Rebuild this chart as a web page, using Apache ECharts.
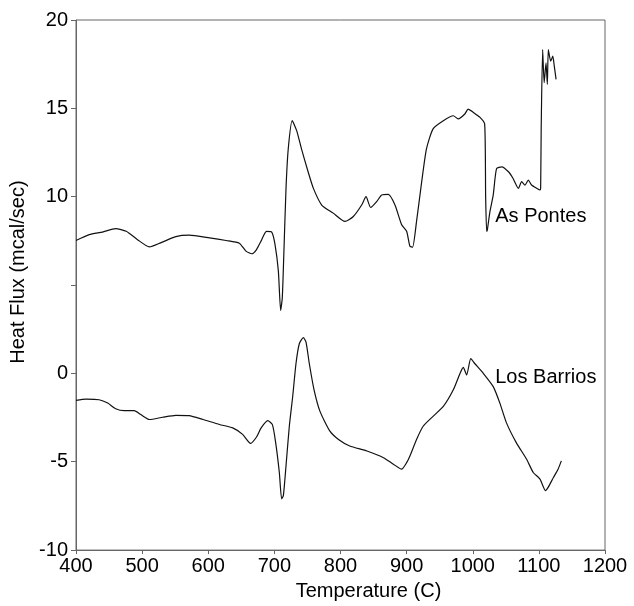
<!DOCTYPE html>
<html>
<head>
<meta charset="utf-8">
<script src="https://cdn.jsdelivr.net/npm/echarts@6/dist/echarts.min.js"></script>
<style>
html,body{margin:0;padding:0;background:#fff;}
#c{width:634px;height:606px;}
</style>
</head>
<body>
<div id="c"></div>
<script>
// Temperature (C) and heat flux (mcal/sec) for each sample
var asPontesT = [400,420,440,460,476,493,511,528,551,571,602,627,647,657,666,673,680,688,696,701,706,709.5,712,714.6,717.6,721,727,733.7,741,751,759,771.6,789,806.8,819.4,832,838.6,845.6,854.7,862.3,872.3,882.4,892.5,900,905,909,915,922.8,930,940,955.5,970.6,978,988,993,1001,1011,1018,1019.5,1021,1022,1026,1031,1036,1044,1054,1061,1069,1074,1079,1084,1089,1097,1101.7,1102.7,1103.5,1105.7,1108,1110.8,1112.8,1114.3,1117.9,1121,1123.3,1126];
var asPontesV = [7.52,7.85,8.0,8.19,8.04,7.57,7.16,7.39,7.74,7.82,7.67,7.52,7.37,6.92,6.77,7.01,7.5,8.04,8.0,7.29,5.8,3.56,4.3,7.1,10.47,12.71,14.3,13.74,12.71,11.41,10.47,9.53,9.07,8.6,8.88,9.53,10.0,9.39,9.72,10.1,10.13,9.53,8.41,8.04,7.2,7.14,8.6,10.85,12.71,13.84,14.3,14.58,14.4,14.68,14.96,14.77,14.49,14.12,10.0,8.04,8.1,9.16,10.1,11.59,11.69,11.41,11.03,10.47,10.85,10.66,10.94,10.66,10.47,10.38,10.5,13.84,18.32,16.45,17.57,16.36,18.32,17.67,17.95,17.39,16.64];
var losBarriosT = [400,415,435,448,460,473,488,498,511,531,551,571,592,617,637,652,664,673,680,690,697,702,707.5,711,713.6,717.6,722.6,727.7,732.7,737.7,743.8,747.8,752.8,760,769,784,797,814,840,865,880,892.5,900,905,915,925,940,955.5,970.6,980.7,985.7,990.8,997,1003,1016,1031,1041,1051,1066,1081.5,1091.5,1101.7,1110,1114,1122,1129,1134];
var losBarriosV = [-1.53,-1.46,-1.49,-1.68,-2.0,-2.11,-2.11,-2.33,-2.61,-2.48,-2.37,-2.39,-2.61,-2.89,-3.08,-3.45,-3.96,-3.6,-3.08,-2.67,-2.9,-3.93,-5.61,-7.1,-6.92,-5.23,-2.99,-1.31,0.56,1.68,2.02,1.78,0.56,-0.93,-2.15,-3.27,-3.74,-4.11,-4.39,-4.77,-5.14,-5.42,-5.05,-4.67,-3.74,-2.99,-2.43,-1.87,-0.93,0.0,0.34,-0.09,0.84,0.56,0.0,-0.75,-1.68,-2.8,-3.93,-4.86,-5.61,-5.98,-6.63,-6.45,-5.89,-5.42,-4.95];
var seriesNames = ['As Pontes','Los Barrios'];
var labelAnchors = [[1034, 8.9],[1034, -0.24]];
var yTickHidden = [5];

function zip(a,b){ return a.map(function(v,i){ return [v,b[i]]; }); }

var chart = echarts.init(document.getElementById('c'), null, {renderer:'canvas'});
var font = 'Liberation Sans, Arial, sans-serif';
var axisColor = '#666';
chart.setOption({
  animation:false,
  backgroundColor:'#fff',
  grid:{left:76, top:20, right:29, bottom:51, show:true, borderColor:axisColor, borderWidth:1},
  xAxis:{
    type:'value', min:400, max:1200, interval:100,
    name:'Temperature (C)', nameLocation:'middle', nameGap:30,
    nameTextStyle:{fontFamily:font, fontSize:20, color:'#000', padding:[0,0,0,56]},
    axisLine:{onZero:false, lineStyle:{color:axisColor}},
    axisTick:{length:4, lineStyle:{color:axisColor}},
    axisLabel:{fontFamily:font, fontSize:20, color:'#000', margin:6,
      formatter:function(v){ return String(v); }},
    splitLine:{show:false}
  },
  yAxis:{
    type:'value', min:-10, max:20, interval:5,
    name:'Heat Flux (mcal/sec)', nameLocation:'middle', nameGap:46,
    nameTextStyle:{fontFamily:font, fontSize:20, color:'#000', padding:[0,0,0,26]},
    axisLine:{show:true, onZero:false, lineStyle:{color:axisColor}},
    axisTick:{show:true, length:5, lineStyle:{color:axisColor}},
    axisLabel:{fontFamily:font, fontSize:20, color:'#000', margin:8,
      formatter:function(v){ return yTickHidden.indexOf(v) >= 0 ? '' : String(v); }},
    splitLine:{show:false}
  },
  series:[
    {name:seriesNames[0], type:'line', data:zip(asPontesT, asPontesV), showSymbol:false, smooth:0.2,
     lineStyle:{color:'#111', width:1.2}},
    {name:seriesNames[1], type:'line', data:zip(losBarriosT, losBarriosV), showSymbol:false, smooth:0.2,
     lineStyle:{color:'#111', width:1.2}}
  ]
});
var g = labelAnchors.map(function(a, i){
  var p = chart.convertToPixel({gridIndex:0}, a);
  return {type:'text', x:p[0], y:p[1], style:{text:seriesNames[i], font:'20px ' + font, fill:'#000', verticalAlign:'middle', align:'left'}};
});
chart.setOption({graphic:g});
</script>
</body>
</html>
